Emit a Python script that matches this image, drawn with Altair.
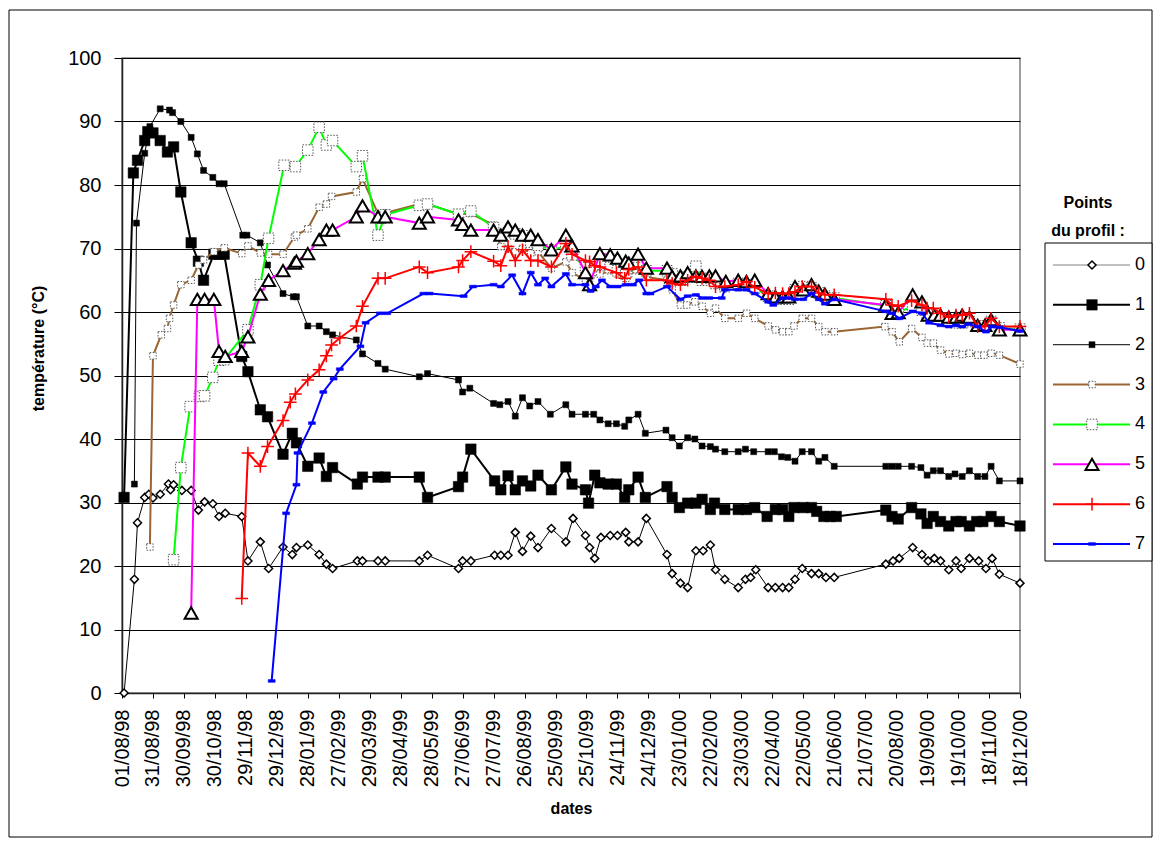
import altair as alt
import pandas as pd

# ---------------- data (day offsets from 01/08/98, temperature in degC) ----------------
series_names = ["0", "1", "2", "3", "4", "5", "6", "7"]

days0 = [2, 12, 15, 22, 26, 30, 37, 45, 47, 50,
         58, 67, 74, 80, 88, 94, 100, 116, 122, 134,
         142, 156, 165, 169, 180, 191, 198, 204, 228, 233,
         248, 255, 288, 296, 326, 330, 338, 361, 367, 374,
         381, 388, 396, 403, 416, 430, 437, 449, 453, 458,
         464, 473, 480, 488, 491, 500, 508, 528, 533, 541,
         548, 556, 563, 570, 575, 584, 597, 604, 609, 614,
         626, 633, 640, 646, 652, 659, 668, 675, 682, 690,
         740, 747, 753, 766, 775, 781, 787, 793, 801, 808,
         813, 821, 830, 837, 843, 850, 870]
temp0 = [0, 17.9, 26.8, 30.8, 31.3, 30.7, 31.3, 32.9, 32.0, 32.8,
         31.9, 31.9, 28.8, 30.1, 29.8, 27.8, 28.3, 27.8, 20.8, 23.8,
         19.6, 23.0, 21.8, 22.9, 23.3, 21.8, 20.3, 19.6, 20.8, 20.8,
         20.8, 20.8, 20.8, 21.7, 19.6, 20.8, 20.8, 21.7, 21.7, 21.7,
         25.3, 22.3, 24.7, 22.9, 25.9, 23.8, 27.5, 24.8, 22.9, 21.2,
         24.5, 24.8, 24.8, 25.3, 23.8, 23.8, 27.5, 21.8, 18.8, 17.3,
         16.6, 22.4, 22.4, 23.3, 19.4, 17.9, 16.6, 17.9, 18.2, 19.4,
         16.6, 16.6, 16.6, 16.6, 17.9, 19.6, 18.8, 18.8, 18.2, 18.2,
         20.3, 20.8, 21.2, 22.9, 21.8, 20.8, 21.2, 20.8, 19.4, 20.8,
         19.6, 21.2, 20.8, 19.6, 21.2, 18.7, 17.3]

days1 = [2, 11, 15, 22, 25, 30, 37, 44, 50, 57,
         67, 74, 79, 89, 94, 99, 116, 122, 134, 141,
         156, 165, 169, 180, 191, 198, 204, 228, 233, 248,
         255, 288, 296, 326, 330, 338, 361, 367, 374, 381,
         388, 396, 403, 416, 430, 436, 449, 452, 458, 463,
         471, 479, 487, 491, 500, 507, 528, 533, 540, 548,
         556, 562, 570, 574, 584, 597, 605, 613, 625, 633,
         640, 646, 651, 660, 668, 673, 680, 686, 692, 740,
         746, 752, 765, 774, 780, 786, 793, 801, 808, 813,
         821, 828, 834, 842, 850, 870]
temp1 = [30.8, 81.9, 83.9, 87.0, 88.4, 88.2, 87.0, 85.2, 86.0, 78.9,
         70.9, 68.0, 65.0, 69.1, 69.1, 69.1, 53.0, 50.6, 44.6, 43.5,
         37.6, 40.9, 39.4, 35.7, 37.0, 34.1, 35.5, 32.9, 34.0, 34.0,
         34.0, 34.0, 30.8, 32.5, 34.0, 38.4, 33.4, 32.0, 34.2, 32.0,
         33.4, 32.6, 34.3, 32.0, 35.6, 32.9, 32.0, 29.9, 34.3, 33.1,
         32.9, 32.9, 30.8, 32.0, 34.0, 30.8, 32.5, 30.8, 29.2, 29.9,
         29.9, 30.5, 28.9, 29.9, 28.9, 28.9, 28.9, 29.2, 27.8, 28.9,
         28.9, 27.8, 29.2, 29.2, 29.2, 28.6, 27.8, 27.8, 27.8, 28.8,
         27.8, 27.4, 29.2, 28.2, 26.7, 27.8, 27.0, 26.3, 27.0, 27.0,
         26.3, 27.0, 27.0, 27.8, 27.0, 26.3]

days2 = [12, 14, 22, 27, 37, 46, 49, 57, 67, 73,
         79, 88, 94, 99, 117, 121, 134, 141, 156, 166,
         169, 180, 191, 198, 204, 227, 233, 248, 255, 288,
         296, 326, 330, 337, 360, 366, 374, 381, 388, 395,
         403, 415, 430, 436, 449, 457, 463, 471, 479, 487,
         491, 500, 507, 527, 533, 540, 548, 555, 562, 570,
         575, 584, 597, 604, 612, 626, 632, 639, 645, 652,
         659, 668, 675, 681, 690, 740, 746, 752, 765, 774,
         780, 786, 793, 801, 807, 814, 821, 829, 836, 842,
         850, 870]
temp2 = [32.9, 74.0, 85.0, 89.2, 92.0, 91.8, 91.4, 90.0, 87.5, 84.9,
         82.3, 81.2, 80.2, 80.2, 72.1, 72.1, 70.9, 67.4, 62.9, 62.4,
         62.4, 57.8, 57.8, 56.9, 56.4, 55.6, 53.4, 51.9, 51.0, 49.8,
         50.3, 49.3, 47.4, 48.0, 45.6, 45.4, 45.9, 43.6, 46.5, 45.2,
         45.9, 43.9, 45.4, 43.9, 43.9, 43.9, 43.0, 42.4, 42.4, 42.0,
         43.0, 43.9, 40.9, 41.4, 40.2, 38.9, 40.2, 40.0, 38.9, 38.8,
         38.4, 38.0, 38.0, 38.4, 38.0, 38.0, 38.0, 37.2, 37.1, 36.5,
         38.0, 38.0, 36.5, 37.1, 35.7, 35.7, 35.7, 35.7, 35.7, 35.5,
         34.3, 35.0, 35.0, 34.1, 34.5, 34.1, 35.0, 34.1, 34.1, 35.7,
         33.4, 33.4]

days3 = [27, 30, 38, 44, 46, 50, 57, 67, 74, 79,
         89, 99, 116, 122, 134, 142, 156, 167, 169, 180,
         191, 198, 203, 227, 233, 248, 255, 288, 296, 326,
         338, 360, 367, 374, 381, 388, 396, 403, 416, 430,
         436, 449, 453, 458, 463, 473, 480, 488, 491, 500,
         508, 528, 533, 541, 547, 555, 562, 570, 575, 584,
         597, 605, 613, 626, 633, 640, 646, 651, 659, 668,
         675, 681, 690, 739, 746, 753, 765, 775, 780, 786,
         793, 801, 808, 814, 821, 829, 835, 842, 850, 870]
temp3 = [23.0, 53.1, 56.4, 57.4, 59.0, 61.1, 64.3, 65.0, 67.4, 68.2,
         69.5, 70.1, 69.2, 70.4, 69.3, 69.1, 69.1, 71.8, 72.1, 73.1,
         76.5, 77.0, 78.2, 78.9, 81.0, 75.5, 75.6, 77.0, 77.0, 75.4,
         75.5, 73.7, 70.3, 70.0, 69.5, 70.0, 69.3, 69.5, 66.9, 67.9,
         66.2, 65.0, 65.3, 66.2, 66.0, 66.5, 66.0, 65.3, 66.0, 66.5,
         65.5, 65.0, 63.5, 61.1, 61.1, 61.6, 60.9, 59.8, 60.6, 59.0,
         59.0, 59.8, 59.0, 57.8, 57.2, 56.9, 56.9, 57.8, 59.0, 59.0,
         57.7, 56.9, 56.9, 57.7, 56.9, 55.3, 57.4, 56.0, 55.1, 55.1,
         54.0, 53.4, 53.5, 53.3, 53.5, 53.2, 53.2, 53.5, 53.2, 51.8]

days4 = [50, 57, 66, 75, 80, 88, 94, 99, 122, 134,
         142, 157, 168, 180, 191, 198, 204, 227, 233, 248,
         255, 288, 296, 326, 338, 360, 367, 374, 381, 388,
         396, 403, 416, 430, 436, 449, 453, 463, 473, 480,
         488, 500, 508, 528, 533, 541, 548, 556, 562, 570,
         575, 584, 597, 605, 613, 626, 633, 640, 646, 652,
         660, 668, 675, 681, 690, 740, 746, 752, 766, 775,
         780, 786, 793, 801, 808, 814, 821, 829, 836, 842,
         850, 870]
temp4 = [21.0, 35.5, 45.1, 46.7, 46.8, 49.7, 52.4, 52.5, 57.2, 64.3,
         71.6, 83.1, 82.9, 85.5, 89.1, 86.3, 87.0, 82.9, 84.6, 72.1,
         75.3, 76.8, 77.0, 75.4, 75.9, 73.3, 72.2, 72.5, 72.3, 72.0,
         71.0, 70.5, 69.8, 70.3, 69.0, 67.0, 66.2, 67.5, 67.0, 66.5,
         66.0, 67.0, 66.5, 66.5, 66.0, 65.0, 65.5, 67.2, 65.0, 65.3,
         64.5, 64.0, 64.5, 64.3, 63.8, 62.5, 62.0, 62.0, 62.0, 63.5,
         64.0, 63.8, 63.0, 62.5, 62.2, 61.0, 60.2, 60.0, 60.8, 60.3,
         59.5, 59.5, 59.0, 58.5, 58.3, 58.3, 58.5, 57.8, 57.8, 58.5,
         57.5, 57.3]

days5 = [67, 73, 80, 89, 94, 100, 116, 122, 134, 142,
         156, 167, 169, 180, 191, 198, 204, 227, 233, 248,
         255, 288, 296, 326, 330, 338, 360, 367, 374, 381,
         388, 396, 403, 416, 430, 436, 449, 453, 463, 473,
         480, 488, 491, 500, 508, 528, 533, 541, 548, 556,
         562, 569, 575, 585, 597, 605, 613, 626, 633, 640,
         646, 652, 660, 668, 675, 681, 690, 740, 746, 752,
         766, 775, 781, 787, 793, 801, 808, 814, 821, 829,
         836, 842, 850, 870]
temp5 = [12.6, 62.0, 62.0, 62.0, 53.8, 53.0, 53.8, 56.1, 62.8, 65.0,
         66.5, 67.7, 68.0, 69.2, 71.4, 72.9, 72.9, 75.0, 76.7, 75.0,
         75.0, 74.0, 75.0, 74.5, 73.8, 72.9, 72.9, 72.1, 73.4, 72.9,
         72.1, 72.1, 71.4, 69.8, 72.1, 70.4, 66.2, 64.3, 69.2, 69.0,
         68.5, 68.0, 67.7, 69.1, 66.9, 66.9, 65.6, 65.7, 66.2, 65.7,
         65.6, 65.7, 65.7, 64.8, 65.0, 64.8, 65.0, 62.9, 62.4, 62.4,
         62.4, 64.0, 63.5, 64.3, 63.3, 62.8, 62.0, 61.1, 59.8, 59.9,
         62.7, 61.6, 59.5, 59.5, 59.5, 59.2, 59.2, 59.5, 59.2, 57.9,
         57.9, 58.8, 57.2, 57.2]

days6 = [116, 122, 134, 141, 156, 163, 168, 180, 191, 198,
         203, 211, 227, 233, 248, 255, 288, 296, 326, 330,
         338, 360, 367, 374, 381, 388, 396, 403, 416, 430,
         436, 449, 453, 458, 463, 479, 487, 491, 500, 508,
         528, 533, 541, 548, 556, 562, 569, 575, 584, 597,
         605, 613, 626, 633, 640, 646, 652, 659, 668, 675,
         681, 690, 740, 746, 752, 765, 775, 780, 786, 793,
         801, 808, 814, 821, 829, 836, 842, 850, 870]
temp6 = [14.9, 37.8, 35.7, 38.8, 42.9, 45.8, 47.1, 49.3, 50.9, 53.1,
         54.8, 55.9, 57.8, 60.9, 65.3, 65.3, 67.1, 66.2, 67.1, 68.1,
         69.5, 68.0, 67.3, 70.3, 68.1, 69.8, 68.1, 68.1, 67.1, 70.8,
         69.1, 68.1, 67.9, 67.3, 67.1, 66.2, 65.3, 66.7, 67.1, 65.0,
         65.0, 64.5, 64.3, 65.0, 65.6, 65.3, 65.0, 64.0, 64.0, 64.3,
         64.8, 63.9, 62.9, 63.0, 62.9, 62.9, 63.2, 64.0, 64.0, 63.0,
         62.7, 62.7, 62.0, 61.1, 60.9, 61.8, 61.1, 60.6, 60.6, 59.8,
         59.2, 59.5, 59.5, 59.8, 57.7, 57.7, 59.0, 57.7, 57.7]

days7 = [145, 159, 169, 170, 184, 195, 205, 211, 231, 236,
         250, 257, 292, 298, 331, 340, 360, 367, 378, 388,
         396, 403, 410, 416, 430, 436, 449, 454, 459, 465,
         473, 480, 488, 495, 501, 508, 512, 528, 541, 548,
         556, 562, 569, 581, 584, 597, 605, 613, 626, 631,
         640, 646, 652, 660, 668, 675, 681, 690, 740, 746,
         753, 766, 775, 782, 793, 801, 808, 814, 820, 829,
         837, 843, 850, 870]
temp7 = [1.9, 28.3, 32.8, 37.8, 42.5, 47.4, 49.5, 51.0, 54.6, 58.3,
         59.8, 59.8, 62.9, 62.9, 62.5, 64.0, 64.3, 64.0, 65.8, 62.9,
         66.2, 64.3, 65.3, 64.0, 66.0, 64.3, 64.3, 63.3, 64.0, 65.0,
         64.0, 64.0, 64.3, 64.3, 65.0, 62.9, 62.9, 64.0, 62.0, 62.5,
         62.7, 62.2, 62.2, 62.2, 63.5, 63.5, 63.5, 62.9, 61.6, 61.1,
         62.2, 62.2, 62.0, 62.0, 62.9, 62.0, 61.3, 62.0, 60.1, 59.8,
         59.0, 60.1, 59.8, 58.3, 57.9, 57.7, 57.9, 57.7, 58.1, 57.7,
         56.9, 57.7, 57.6, 57.0]

tick_days = list(range(0, 871, 30))
y_ticks = list(range(0, 101, 10))

all_days = [days0, days1, days2, days3, days4, days5, days6, days7]
all_temps = [temp0, temp1, temp2, temp3, temp4, temp5, temp6, temp7]

# ---------------- styles ----------------
line_colors = ["#000000", "#000000", "#000000", "#996633", "#00ff00", "#ff00ff", "#ff0000", "#0000ff"]
line_widths = [1, 2, 1, 2, 2, 2, 2, 2]
legend_line_colors = ["#808080", "#000000", "#000000", "#996633", "#00ff00", "#ff00ff", "#ff0000", "#0000ff"]
point_styles = [
    dict(shape="diamond", filled=True, fill="#ffffff", stroke="#000000", strokeWidth=1.5, size=64),
    dict(shape="square", filled=True, fill="#000000", stroke="#000000", strokeWidth=0.5, size=110),
    dict(shape="square", filled=True, fill="#000000", stroke="#000000", strokeWidth=0.5, size=36),
    dict(shape="square", filled=True, fill="#ffffff", stroke="#555555", strokeWidth=1, strokeDash=[1.5, 1.5], size=42),
    dict(shape="square", filled=True, fill="#ffffff", stroke="#555555", strokeWidth=1, strokeDash=[1.5, 1.5], size=110),
    dict(shape="triangle-up", filled=True, fill="#ffffff", stroke="#000000", strokeWidth=2, size=170),
    dict(shape="M-1,0L1,0M0,-1L0,1", filled=False, stroke="#ff0000", strokeWidth=1.5, size=160),
    dict(shape="M-1,-0.4L1,-0.4L1,0.4L-1,0.4Z", filled=True, fill="#0000ff", stroke="#0000ff", strokeWidth=0.5, size=49),
]

W, H = 898, 635
FONT = "Liberation Sans"

x_axis = alt.Axis(
    values=tick_days,
    labelExpr="utcFormat(datum.value * 86400000 + 901929600000, '%d/%m/%y')",
    labelAngle=-90, labelFont=FONT, labelFontSize=20, labelColor="#000000",
    labelPadding=11, labelOverlap=False, labelFlush=False,
    tickSize=5, tickColor="#000000", tickWidth=1,
    domainColor="#222222", domainWidth=1.5, grid=False,
    title="dates", titleFont=FONT, titleFontSize=16, titleFontWeight="bold",
    titleColor="#000000", titleX=449, titleY=115, titleAlign="center",
    titleBaseline="middle", titleAngle=0,
)
y_axis = alt.Axis(
    values=y_ticks, labelFont=FONT, labelFontSize=20, labelColor="#000000",
    labelPadding=13, tickSize=8, tickColor="#000000", tickWidth=1,
    domainColor="#222222", domainWidth=1.5,
    grid=True, gridColor="#000000", gridWidth=1,
    title="température (°C)", titleFont=FONT, titleFontSize=16,
    titleFontWeight="bold", titleColor="#000000", titleX=-84, titleY=290,
    titleAngle=-90, titleAlign="center", titleBaseline="middle",
)

X = alt.X("d:Q", scale=alt.Scale(domain=[0, 870], nice=False, zero=False), axis=x_axis)
Y = alt.Y("t:Q", scale=alt.Scale(domain=[0, 100], nice=False), axis=y_axis)

series_layers = []
for i, name in enumerate(series_names):
    df = pd.DataFrame({"d": all_days[i], "t": all_temps[i]})
    base = alt.Chart(df)
    series_layers.append(
        base.mark_line(color=line_colors[i], strokeWidth=line_widths[i], opacity=1).encode(x=X, y=Y)
    )
    series_layers.append(
        base.mark_point(opacity=1, **point_styles[i]).encode(x=X, y=Y)
    )
main = alt.layer(*series_layers)

# ---------------- legend ----------------
leg_scale = alt.Scale(type="point", domain=series_names, range=[207, 486], padding=0)
LY = alt.Y("name:N", scale=leg_scale, axis=None)
one = pd.DataFrame({"k": [0]})

legend_layers = [
    alt.Chart(one).mark_rect(fill="#ffffff", stroke="#000000", strokeWidth=1).encode(
        x=alt.value(923), x2=alt.value(1030), y=alt.value(185), y2=alt.value(503)),
]
for i, name in enumerate(series_names):
    ldf = pd.DataFrame({"name": [name]})
    legend_layers.append(
        alt.Chart(ldf).mark_rule(color=legend_line_colors[i], strokeWidth=line_widths[i]).encode(
            y=LY, x=alt.value(931), x2=alt.value(1008)))
    legend_layers.append(
        alt.Chart(ldf).mark_point(opacity=1, **point_styles[i]).encode(y=LY, x=alt.value(970)))
legend_layers.append(
    alt.Chart(pd.DataFrame({"name": series_names})).mark_text(
        align="left", baseline="middle", font=FONT, fontSize=18, color="#000000").encode(
        y=LY, x=alt.value(1013), text="name:N"))
legend = alt.layer(*legend_layers)

title_df = pd.DataFrame({"txt": ["Points", "du profil :"], "row": ["a", "b"]})
legend_title = alt.Chart(title_df).mark_text(
    align="center", baseline="middle", font=FONT, fontSize=16, fontWeight="bold", color="#000000"
).encode(
    text="txt:N",
    x=alt.value(966),
    y=alt.Y("row:N", scale=alt.Scale(type="point", domain=["a", "b"], range=[145, 173], padding=0), axis=None),
)

frame = alt.Chart(one).mark_rect(fill="#ffffff", fillOpacity=0, stroke="#000000", strokeWidth=1).encode(
    x=alt.value(-113), x2=alt.value(1030), y=alt.value(-48), y2=alt.value(779))

chart = alt.layer(frame, main, legend, legend_title).resolve_scale(y="independent").properties(
    width=W, height=H,
    padding={"left": 114, "top": 50, "right": 133, "bottom": 145},
    autosize=alt.AutoSizeParams(type="none"),
    background="#ffffff",
).configure_view(stroke="#808080", strokeWidth=1.5)

chart.save("out.html", embed_options={"renderer": "svg", "actions": False})
